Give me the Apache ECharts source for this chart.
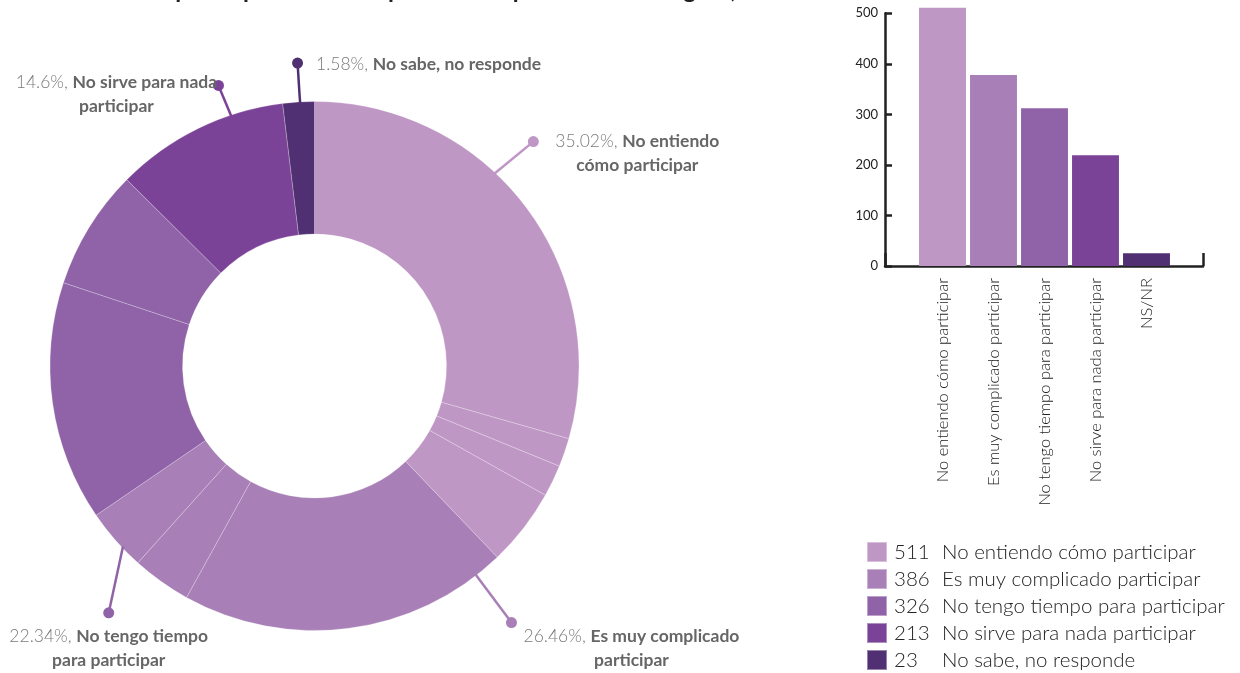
<!DOCTYPE html>
<html>
<head>
<meta charset="utf-8">
<script src="https://cdn.jsdelivr.net/npm/echarts@6/dist/echarts.min.js"></script>
<style>html,body{margin:0;padding:0;background:#fff;}#c{width:1240px;height:673px;}</style>
</head>
<body>
<div id="c"></div>
<script>
// ---------- data ----------
const titleText = 'Razones de no participación en los problemas que afectan a Bogotá, 2019';
const categories = ['No entiendo cómo participar', 'Es muy complicado participar', 'No tengo tiempo para participar', 'No sirve para nada participar', 'No sabe, no responde'];
const barCategories = ['No entiendo cómo participar', 'Es muy complicado participar', 'No tengo tiempo para participar', 'No sirve para nada participar', 'NS/NR'];
const barValues = [511, 378, 312, 219, 25];
const legendCounts = [511, 386, 326, 213, 23];
// donut sub-slice shares (percent of the ring) per category
const donutShares = [
  [29.43, 1.75, 1.94, 4.74],
  [20.18, 3.60, 3.82],
  [14.64, 7.34],
  [10.64],
  [1.92]
];
const labelPercents = ['35.02%', '26.46%', '22.34%', '14.6%', '1.58%'];
const labelNames = ['No entiendo\ncómo participar', 'Es muy complicado\nparticipar', 'No tengo tiempo\npara participar', 'No sirve para nada\nparticipar', 'No sabe, no responde'];
const yTicks = [0, 100, 200, 300, 400, 500];

// ---------- style / placement ----------
const colors = ['#BF97C5', '#A87FB7', '#9063A8', '#7B4397', '#503072'];
const FONT = 'Lato';
const CX = 314.5, CY = 366, R_IN = 132, R_OUT = 264.5;
// leader line anchors: [start angle %, end angle %], end radius as factor of outer radius
const leaderAngles = [[11.97, 12.3], [39.53, 39.58], [62.97, 61.06], [94.88, 94.75], [99.13, 99.11]];
const leaderRadius = [1.185, 1.223, 1.215, 1.121, 1.147];
const labelOffsets = [[104, 11.5], [120, 26], [0, 36], [-102, 9], [131, 1]];

const pieData = [];
donutShares.forEach((arr, ci) => {
  arr.forEach(v => pieData.push({ name: categories[ci], value: v, itemStyle: { color: colors[ci] } }));
});

const leaderSeries = categories.map((c, i) => {
  const nameLines = labelNames[i].split('\n');
  const txt = '{p|' + labelPercents[i] + ', }{b|' + nameLines[0] + '}' +
    nameLines.slice(1).map(l => '\n{b|' + l + '}').join('');
  return {
    type: 'line', coordinateSystem: 'polar', polarIndex: 0, silent: true, animation: false,
    symbol: 'circle', symbolSize: 11, showSymbol: true, z: 5,
    lineStyle: { color: colors[i], width: 2.5 },
    itemStyle: { color: colors[i] },
    data: [
      { value: [0.995, leaderAngles[i][0]], symbol: 'none' },
      { value: [leaderRadius[i], leaderAngles[i][1]],
        label: {
          show: true, position: 'inside', offset: labelOffsets[i], align: 'center', verticalAlign: 'middle',
          formatter: () => txt, lineHeight: 24,
          rich: {
            p: { fontFamily: FONT, fontSize: 17.5, color: '#7a7a7a', fontWeight: 300, lineHeight: 24 },
            b: { fontFamily: FONT, fontSize: 17.5, color: '#666', fontWeight: 'bold', lineHeight: 24 }
          }
        }
      }
    ]
  };
});

const chart = echarts.init(document.getElementById('c'), null, { renderer: 'canvas' });
const axisColor = '#222';
chart.setOption({
  animation: false,
  backgroundColor: '#fff',
  title: { text: titleText, left: 15, top: -22, padding: 0, textStyle: { fontFamily: FONT, fontSize: 24, fontWeight: 'bold', color: '#222' } },
  legend: {
    data: categories, orient: 'vertical', left: 866, top: 541, height: 200, padding: 0,
    itemWidth: 20, itemHeight: 20, itemGap: 5,
    icon: 'rect', selectedMode: false,
    formatter: name => '{v|' + legendCounts[categories.indexOf(name)] + '}{n|' + name + '}',
    textStyle: {
      fontFamily: FONT, fontSize: 20.5, color: '#222', lineHeight: 20,
      rich: {
        v: { fontFamily: FONT, fontSize: 20.5, fontWeight: 300, color: '#222', width: 48, lineHeight: 20, padding: [0, 0, 0, 2] },
        n: { fontFamily: FONT, fontSize: 20.5, fontWeight: 300, color: '#222', lineHeight: 20 }
      }
    }
  },
  polar: [{ center: [CX, CY], radius: R_OUT * 1.3 }],
  angleAxis: [{ polarIndex: 0, type: 'value', min: 0, max: 100, startAngle: 90, clockwise: true, show: false }],
  radiusAxis: [{ polarIndex: 0, type: 'value', min: 0, max: 1.3, show: false }],
  grid: [
    { left: 885, top: 13.3, width: 318, height: 252.7 },
    { left: 917, top: 13.3, width: 255, height: 252.7 }
  ],
  xAxis: [
    { gridIndex: 0, type: 'value', min: 0, max: 1, interval: 1,
      axisLine: { show: true, lineStyle: { color: axisColor, width: 2.5 } },
      axisTick: { show: true, inside: true, length: 13, lineStyle: { color: axisColor, width: 2.5 } },
      axisLabel: { show: false }, splitLine: { show: false } },
    { gridIndex: 1, type: 'category', data: barCategories,
      axisLine: { show: false }, axisTick: { show: false }, splitLine: { show: false },
      axisLabel: { rotate: 90, margin: 12, interval: 0, fontFamily: FONT, fontSize: 16.5, fontWeight: 300, color: '#222' } }
  ],
  yAxis: [
    { gridIndex: 0, type: 'value', min: yTicks[0], max: yTicks[yTicks.length - 1], interval: 100,
      axisLine: { show: true, lineStyle: { color: axisColor, width: 2.5 } },
      axisTick: { show: true, inside: true, length: 7, lineStyle: { color: axisColor, width: 2.5 } },
      axisLabel: { margin: 7, fontFamily: FONT, fontSize: 13, color: '#222' },
      splitLine: { show: false } },
    { gridIndex: 1, type: 'value', min: yTicks[0], max: yTicks[yTicks.length - 1], show: false, splitLine: { show: false } }
  ],
  series: [
    {
      type: 'pie', center: [CX, CY], radius: [R_IN, R_OUT], startAngle: 90, clockwise: true,
      silent: true, label: { show: false }, labelLine: { show: false },
      itemStyle: { borderColor: 'rgba(255,255,255,0.4)', borderWidth: 0.6 },
      data: pieData
    },
    {
      type: 'bar', xAxisIndex: 1, yAxisIndex: 1, clip: false, silent: true, barCategoryGap: '8%',
      data: barValues.map((v, i) => ({ value: v, itemStyle: { color: colors[i] } }))
    },
    ...leaderSeries
  ]
});
</script>
</body>
</html>
